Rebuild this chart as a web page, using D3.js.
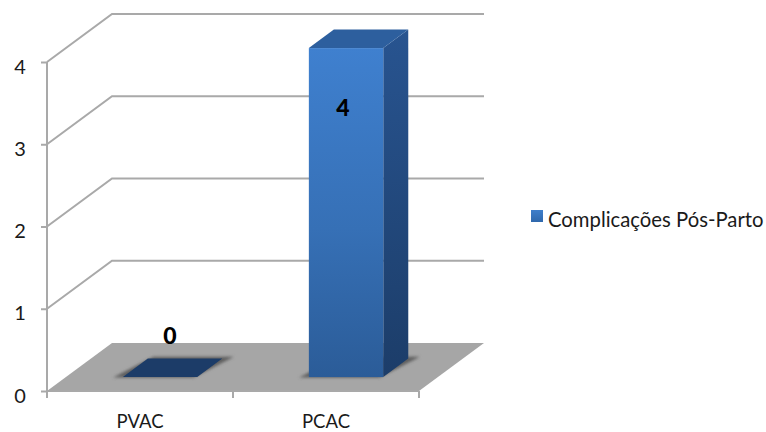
<!DOCTYPE html>
<html lang="pt">
<head>
<meta charset="utf-8">
<script src="https://cdn.jsdelivr.net/npm/d3@7/dist/d3.min.js"></script>
<style>
html,body{margin:0;padding:0;background:#fff}
svg{display:block}
text{font-family:Lato,"Open Sans",sans-serif;fill:#1a1a1a}
</style>
</head>
<body>
<div id="chart"></div>
<script>
const categories = ["PVAC", "PCAC"];
const values = [0, 4];
const yTicks = [0, 1, 2, 3, 4];
const seriesName = "Complicações Pós-Parto";

const width = 766, height = 432;
const svg = d3.select("#chart").append("svg").attr("width", width).attr("height", height);

// Front plane of the 3D box
const x = d3.scaleBand().domain(categories).range([47, 419]);
const y = d3.scaleLinear().domain([0, 4]).range([391, 62]);
// Oblique projection: depth 0 = front plane, depth 1 = back wall
const depthX = d3.scaleLinear().domain([0, 1]).range([0, 65]);
const depthY = d3.scaleLinear().domain([0, 1]).range([0, -48]);
const pt = (px, py, d) => [px + depthX(d), py + depthY(d)];
const poly = pts => "M" + pts.map(p => p.join(",")).join("L") + "Z";

const defs = svg.append("defs");
const frontGrad = defs.append("linearGradient").attr("id", "barFront")
  .attr("x1", 0).attr("y1", 0).attr("x2", 0).attr("y2", 1);
frontGrad.append("stop").attr("offset", 0).attr("stop-color", "#3f80cf");
frontGrad.append("stop").attr("offset", 0.55).attr("stop-color", "#3670b6");
frontGrad.append("stop").attr("offset", 1).attr("stop-color", "#2b5c98");
const sideGrad = defs.append("linearGradient").attr("id", "barSide")
  .attr("x1", 0).attr("y1", 0).attr("x2", 0).attr("y2", 1);
sideGrad.append("stop").attr("offset", 0).attr("stop-color", "#285490");
sideGrad.append("stop").attr("offset", 1).attr("stop-color", "#1c3d69");
const swatchGrad = defs.append("linearGradient").attr("id", "swatch")
  .attr("x1", 0).attr("y1", 0).attr("x2", 0).attr("y2", 1);
swatchGrad.append("stop").attr("offset", 0).attr("stop-color", "#3f7fcb");
swatchGrad.append("stop").attr("offset", 1).attr("stop-color", "#2f68ac");
defs.append("filter").attr("id", "soft").attr("x", "-20%").attr("y", "-40%")
  .attr("width", "140%").attr("height", "180%")
  .append("feGaussianBlur").attr("stdDeviation", 1.6);

const lineColor = "#a9a9a9";
const [x0, x1] = x.range();

// Floor
svg.append("path")
  .attr("d", poly([pt(x0, y(0), 0), pt(x0, y(0), 1), pt(x1, y(0), 1), pt(x1, y(0), 0)]))
  .attr("fill", "#a6a6a6");

// Gridlines on the side and back walls
const grid = svg.append("g").attr("fill", "none").attr("stroke", lineColor).attr("stroke-width", 2);
yTicks.filter(t => t > 0).forEach(t => {
  grid.append("polyline").attr("points", [pt(x0, y(t), 0), pt(x0, y(t), 1), pt(x1, y(t), 1)].join(" "));
});

// Value axis
const axisY = svg.append("g").attr("transform", `translate(${x0},0)`)
  .call(d3.axisLeft(y).tickValues(yTicks).tickSize(6).tickPadding(28).tickFormat(d3.format("d")));
axisY.select(".domain").attr("stroke", lineColor).attr("stroke-width", 2).attr("d", `M0,${y(0)}V${y(4)}`);
axisY.selectAll(".tick line").attr("stroke", lineColor).attr("stroke-width", 2);
axisY.selectAll("text").attr("font-size", 20).attr("text-anchor", "middle").attr("dx", 7).attr("dy", "0.55em")
  .style("font-family", "Lato,sans-serif");

// Category axis
const axisX = svg.append("g").attr("transform", `translate(0,${y(0)})`)
  .call(d3.axisBottom(x).tickSize(0).tickPadding(24));
axisX.select(".domain").attr("stroke", lineColor).attr("stroke-width", 2).attr("d", `M${x0},0H${x1}`);
axisX.selectAll("text").attr("font-size", 18.5).style("font-family", "Lato,sans-serif");
axisX.selectAll(".edge").data([x0, x(categories[1]), x1]).enter().append("line").attr("class", "edge")
  .attr("x1", d => d).attr("x2", d => d).attr("y1", 0).attr("y2", 7)
  .attr("stroke", lineColor).attr("stroke-width", 2);

// Bars sit between these two depths, with a fixed share of each band as width
const depthFront = 0.29, depthBack = 0.675, barShare = 0.4, barNudge = 1.2;
const barW = x.bandwidth() * barShare;
const bars = svg.append("g");
categories.forEach((c, i) => {
  const cx = x(c) + x.bandwidth() / 2 + barNudge;
  const l = cx - barW / 2, r = cx + barW / 2;
  const yB = y(0), yT = y(values[i]);
  const g = bars.append("g");
  // Contact shadow on the floor
  g.append("path")
    .attr("d", poly([pt(l - 9, yB, depthFront - 0.01), pt(l + 3, yB, depthBack + 0.04), pt(r + 9, yB, depthBack + 0.04), pt(r - 3, yB, depthFront - 0.01)]))
    .attr("fill", "#5e5e5e").attr("filter", "url(#soft)");
  if (values[i] === 0) {
    g.append("path")
      .attr("d", poly([pt(l, yB, depthFront), pt(l, yB, depthBack), pt(r, yB, depthBack), pt(r, yB, depthFront)]))
      .attr("fill", "#1c3c68");
  } else {
    g.append("path")
      .attr("d", poly([pt(r, yT, depthFront), pt(r, yT, depthBack), pt(r, yB, depthBack), pt(r, yB, depthFront)]))
      .attr("fill", "url(#barSide)");
    g.append("path")
      .attr("d", poly([pt(l, yT, depthFront), pt(l, yT, depthBack), pt(r, yT, depthBack), pt(r, yT, depthFront)]))
      .attr("fill", "#2d5f9e");
    const [fx, fy] = pt(l, yT, depthFront);
    g.append("rect").attr("x", fx).attr("y", fy).attr("width", barW).attr("height", yB - yT)
      .attr("fill", "url(#barFront)");
  }
});

// Value labels
const labelPos = [[170, 344], [343, 116]];
svg.append("g").selectAll("text").data(values).enter().append("text")
  .attr("x", (d, i) => labelPos[i][0]).attr("y", (d, i) => labelPos[i][1])
  .attr("text-anchor", "middle").attr("font-size", 23).attr("font-weight", 900)
  .style("fill", "#000").text(d => d);

// Legend
const legend = svg.append("g");
legend.append("rect").attr("x", 531).attr("y", 210).attr("width", 12).attr("height", 12).attr("fill", "url(#swatch)");
legend.append("text").attr("x", 548).attr("y", 227).attr("font-size", 20.3).text(seriesName);
</script>
</body>
</html>
